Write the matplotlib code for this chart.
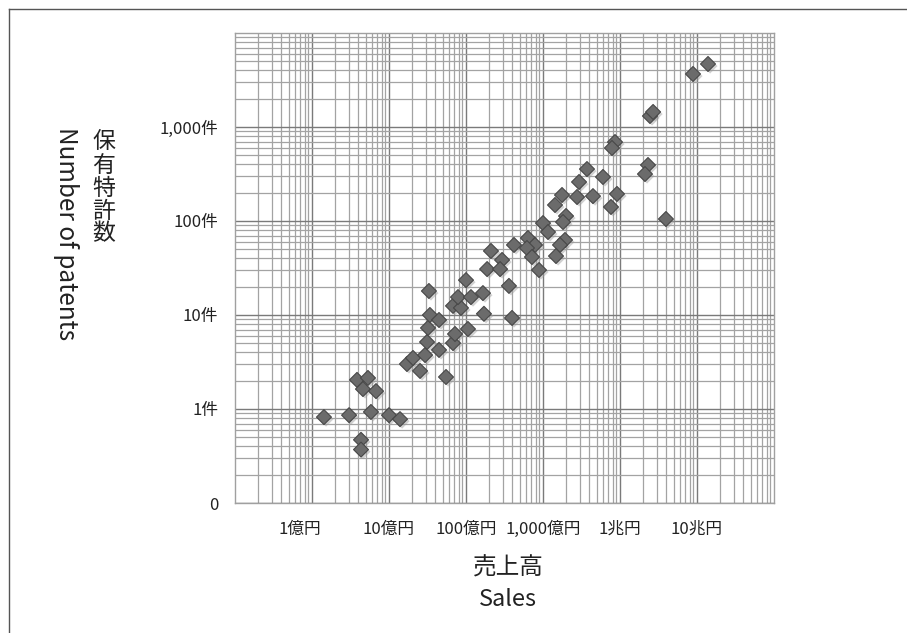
import matplotlib
matplotlib.use('Agg')
import matplotlib.pyplot as plt
import matplotlib.patheffects as pe
from matplotlib.lines import Line2D
from matplotlib.ticker import FixedLocator, LogLocator, NullFormatter
from matplotlib.transforms import ScaledTranslation
import numpy as np

plt.rcParams['font.family'] = ['Noto Sans CJK JP', 'DejaVu Sans']

# sales in 億円, patents held (件)
sales = [1.43, 3.03, 5.83, 10.0, 13.9, 4.33, 4.33, 3.84, 5.33, 4.59,
         6.78, 17.1, 20.5, 25.3, 29.4, 31.2, 44.6, 32.1, 34.0, 44.6,
         33.0, 55.0, 67.8, 72.0, 106, 67.8, 86, 78.7, 116, 166,
         100, 171, 361, 396, 211, 294, 188, 277, 420, 887,
         638, 787, 619, 719, 1931, 1663, 1475, 1000, 1161, 1991,
         1820, 1432, 1766, 2767, 4457, 2938, 3725, 6012, 7640, 8610,
         7870, 9140, 23100, 21100, 24500, 26900, 39500, 88700, 139000]
patents = [0.82, 0.86, 0.93, 0.86, 0.78, 0.47, 0.37, 2.04, 2.14, 1.63,
           1.55, 3.01, 3.49, 2.54, 3.75, 5.16, 4.25, 7.28, 10.0, 8.85,
           18.0, 2.19, 5.03, 6.28, 7.1, 12.5, 11.9, 15.5, 15.5, 17.1,
           23.5, 10.3, 20.4, 9.3, 48, 38.5, 30.8, 30.8, 55.6, 30.1,
           65.9, 55.6, 51.6, 41.4, 62.8, 55.6, 42.4, 95, 76.4, 113,
           97.5, 148, 189, 180, 184, 260, 357, 294, 141, 692,
           598, 194, 394, 316, 1309, 1445, 105, 3664, 4680]

x_ticks = [1, 10, 100, 1000, 10000, 100000]
x_labels = ['1億円', '10億円', '100億円', '1,000億円', '1兆円', '10兆円']
y_ticks = [0.1, 1, 10, 100, 1000]
y_labels = ['0', '1件', '10件', '100件', '1,000件']

W, H = 907, 633
fig = plt.figure(figsize=(W / 100, H / 100), dpi=100)
ax = fig.add_axes([235 / W, 1 - 503 / H, 539 / W, 470 / H])
ax.set_xscale('log')
ax.set_yscale('log')
ax.set_xlim(0.1, 1e6)
ax.set_ylim(0.1, 1e4)

ax.xaxis.set_major_locator(FixedLocator(x_ticks))
ax.set_xticklabels(x_labels)
ax.yaxis.set_major_locator(FixedLocator(y_ticks))
ax.set_yticklabels(y_labels)
for axis in (ax.xaxis, ax.yaxis):
    axis.set_minor_locator(LogLocator(base=10, subs=np.arange(2, 10), numticks=100))
    axis.set_minor_formatter(NullFormatter())

ax.grid(which='major', color='#7a7a7a', lw=1.0)
ax.grid(which='minor', color='#a3a3a3', lw=0.9)
ax.set_axisbelow(True)
ax.tick_params(which='both', length=0)
ax.tick_params(axis='x', pad=13, labelsize=12, colors='#222222')
ax.tick_params(axis='y', pad=12, labelsize=12, colors='#222222')
for s in ax.spines.values():
    s.set_color('#a0a0a0')
    s.set_linewidth(1.0)

# first label sits a little left of its gridline in the original
lbl0 = ax.get_xticklabels()[0]
lbl0.set_transform(lbl0.get_transform() + ScaledTranslation(-12 / 100, 0, fig.dpi_scale_trans))

ax.scatter(sales, patents, marker='D', s=58, c='#6b6b6b', edgecolors='#474747',
           linewidths=0.8, zorder=3, clip_on=False,
           path_effects=[pe.SimplePatchShadow(offset=(1.5, -1.5), shadow_rgbFace='#9a9a9a', alpha=0.45),
                         pe.Normal()])

fig.text(508 / W, 1 - 568 / H, '売上高', ha='center', va='center', fontsize=17, color='#222222')
fig.text(508 / W, 1 - 600 / H, 'Sales', ha='center', va='center', fontsize=17, color='#222222')
fig.text(104 / W, 1 - 188 / H, '\n'.join('保有特許数'), ha='center', va='center',
         fontsize=16.5, linespacing=1.0, color='#222222')
fig.text(66 / W, 1 - 234 / H, 'Number of patents', ha='center', va='center',
         rotation=-90, fontsize=17.5, color='#222222')

# outer frame (top and left edges only are inside the image)
fig.add_artist(Line2D([9 / W, 1], [1 - 9 / H, 1 - 9 / H], color='#555555', lw=1.0))
fig.add_artist(Line2D([9 / W, 9 / W], [0, 1 - 9 / H], color='#555555', lw=1.0))

fig.savefig('out.png', dpi=100)
